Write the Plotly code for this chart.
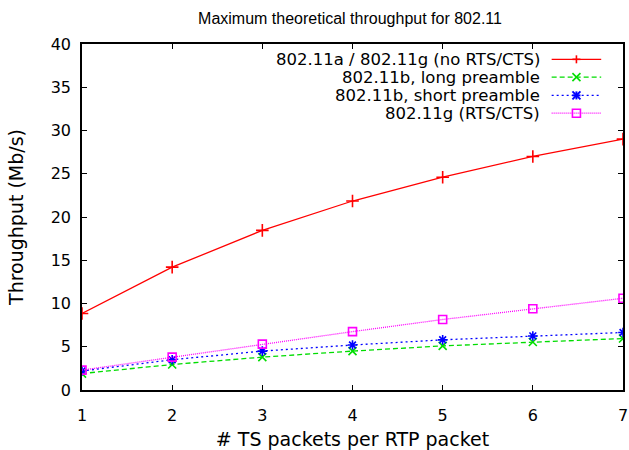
import plotly.graph_objects as go

# ---- data ----
packets = [1, 2, 3, 4, 5, 6, 7]
ag_no_rts = [8.85, 14.2, 18.45, 21.85, 24.6, 27.0, 29.0]
b_long = [1.9, 2.95, 3.8, 4.5, 5.1, 5.55, 5.95]
b_short = [2.2, 3.5, 4.5, 5.2, 5.8, 6.25, 6.65]
g_rts = [2.3, 3.8, 5.3, 6.75, 8.15, 9.4, 10.6]
series_names = [
    "802.11a / 802.11g (no RTS/CTS)",
    "802.11b, long preamble",
    "802.11b, short preamble",
    "802.11g (RTS/CTS)",
]
y_ticks = [0, 5, 10, 15, 20, 25, 30, 35, 40]
x_ticks = [1, 2, 3, 4, 5, 6, 7]

colors = ["#ff0000", "#00dd00", "#0000ff", "#ff00ff"]
dashes = ["solid", "5px,3px", "2px,3px", "1px,1px"]
symbols = ["cross-thin-open", "x-thin-open", "asterisk-open", "square-open"]
msizes = [9, 8, 8, 8]

FONT = "DejaVu Sans"

fig = go.Figure()
for name, ys, c, d, s, ms in zip(series_names, [ag_no_rts, b_long, b_short, g_rts],
                                 colors, dashes, symbols, msizes):
    fig.add_trace(go.Scatter(
        x=packets, y=ys, mode="lines+markers", name=name, showlegend=False,
        line=dict(color=c, width=1.3, dash=d),
        marker=dict(symbol=s, size=ms, color=c, line=dict(color=c, width=1.6)),
    ))

# ---- gnuplot-like key (text right, sample on the right) ----
W, H = 629, 450
ML, MR, MT, MB = 82, 1, 44, 56
pw, ph = W - ML - MR, H - MT - MB

def px(xp):
    return (xp - ML) / pw

def py(yp):
    return (H - MB - yp) / ph

rows = [59.5, 77.5, 96, 114]
text_right = 545
line_x0, line_x1 = 556, 606
mx = (line_x0 + line_x1) / 2

shapes = []
annotations = []
for i, (name, c, d) in enumerate(zip(series_names, colors, dashes)):
    yy = py(rows[i])
    annotations.append(dict(
        x=px(text_right), y=yy, xref="paper", yref="paper", text=name,
        showarrow=False, xanchor="right", yanchor="middle", borderpad=0,
        font=dict(family=FONT, size=16.5, color="black"),
    ))
    shapes.append(dict(type="line", xref="paper", yref="paper",
                       x0=px(line_x0), x1=px(line_x1), y0=yy, y1=yy,
                       line=dict(color=c, width=1.3, dash=d)))
    r = 4
    cx = px(mx)
    def seg(dx0, dy0, dx1, dy1, w=1.6):
        return dict(type="line", xref="paper", yref="paper",
                    xsizemode="pixel", ysizemode="pixel",
                    xanchor=cx, yanchor=yy,
                    x0=dx0, y0=dy0, x1=dx1, y1=dy1,
                    line=dict(color=c, width=w))
    if i == 0:
        shapes += [seg(-r, 0, r, 0), seg(0, -r, 0, r)]
    elif i == 1:
        shapes += [seg(-r, -r, r, r), seg(-r, r, r, -r)]
    elif i == 2:
        shapes += [seg(-r, 0, r, 0, 2), seg(0, -r, 0, r, 2),
                   seg(-r, -r, r, r, 2), seg(-r, r, r, -r, 2)]
    else:
        shapes.append(dict(type="rect", xref="paper", yref="paper",
                           xsizemode="pixel", ysizemode="pixel",
                           xanchor=cx, yanchor=yy, x0=-r, x1=r, y0=-r, y1=r,
                           line=dict(color=c, width=1.6)))

fig.update_layout(
    width=W, height=H,
    margin=dict(l=ML, r=MR, t=MT, b=MB),
    paper_bgcolor="white", plot_bgcolor="white",
    font=dict(family=FONT, size=16, color="black"),
    title=dict(text="Maximum theoretical throughput for 802.11",
               x=(350) / W, xanchor="center", y=1 - 18 / H, yanchor="middle",
               font=dict(family="Liberation Sans", size=16, color="black")),
    shapes=shapes, annotations=annotations,
    xaxis=dict(range=[1, 7], tickvals=x_ticks, ticks="inside", ticklen=5,
               tickcolor="black", showline=True, linecolor="black", linewidth=1.5,
               mirror="ticks", showgrid=False, zeroline=False,
               ticklabeloverflow="allow",
               title=dict(text="# TS packets per RTP packet", standoff=11),
               ticklabelstandoff=10),
    yaxis=dict(range=[0, 40], tickvals=y_ticks, ticks="inside", ticklen=5,
               tickcolor="black", showline=True, linecolor="black", linewidth=1.5,
               mirror="ticks", showgrid=False, zeroline=False,
               title=dict(text="Throughput (Mb/s)", standoff=22),
               ticklabelstandoff=6),
)

fig.write_html(
    "out.html",
    config={"displayModeBar": False},
    post_script="document.body.style.margin='0';document.body.style.overflow='hidden';",
)
